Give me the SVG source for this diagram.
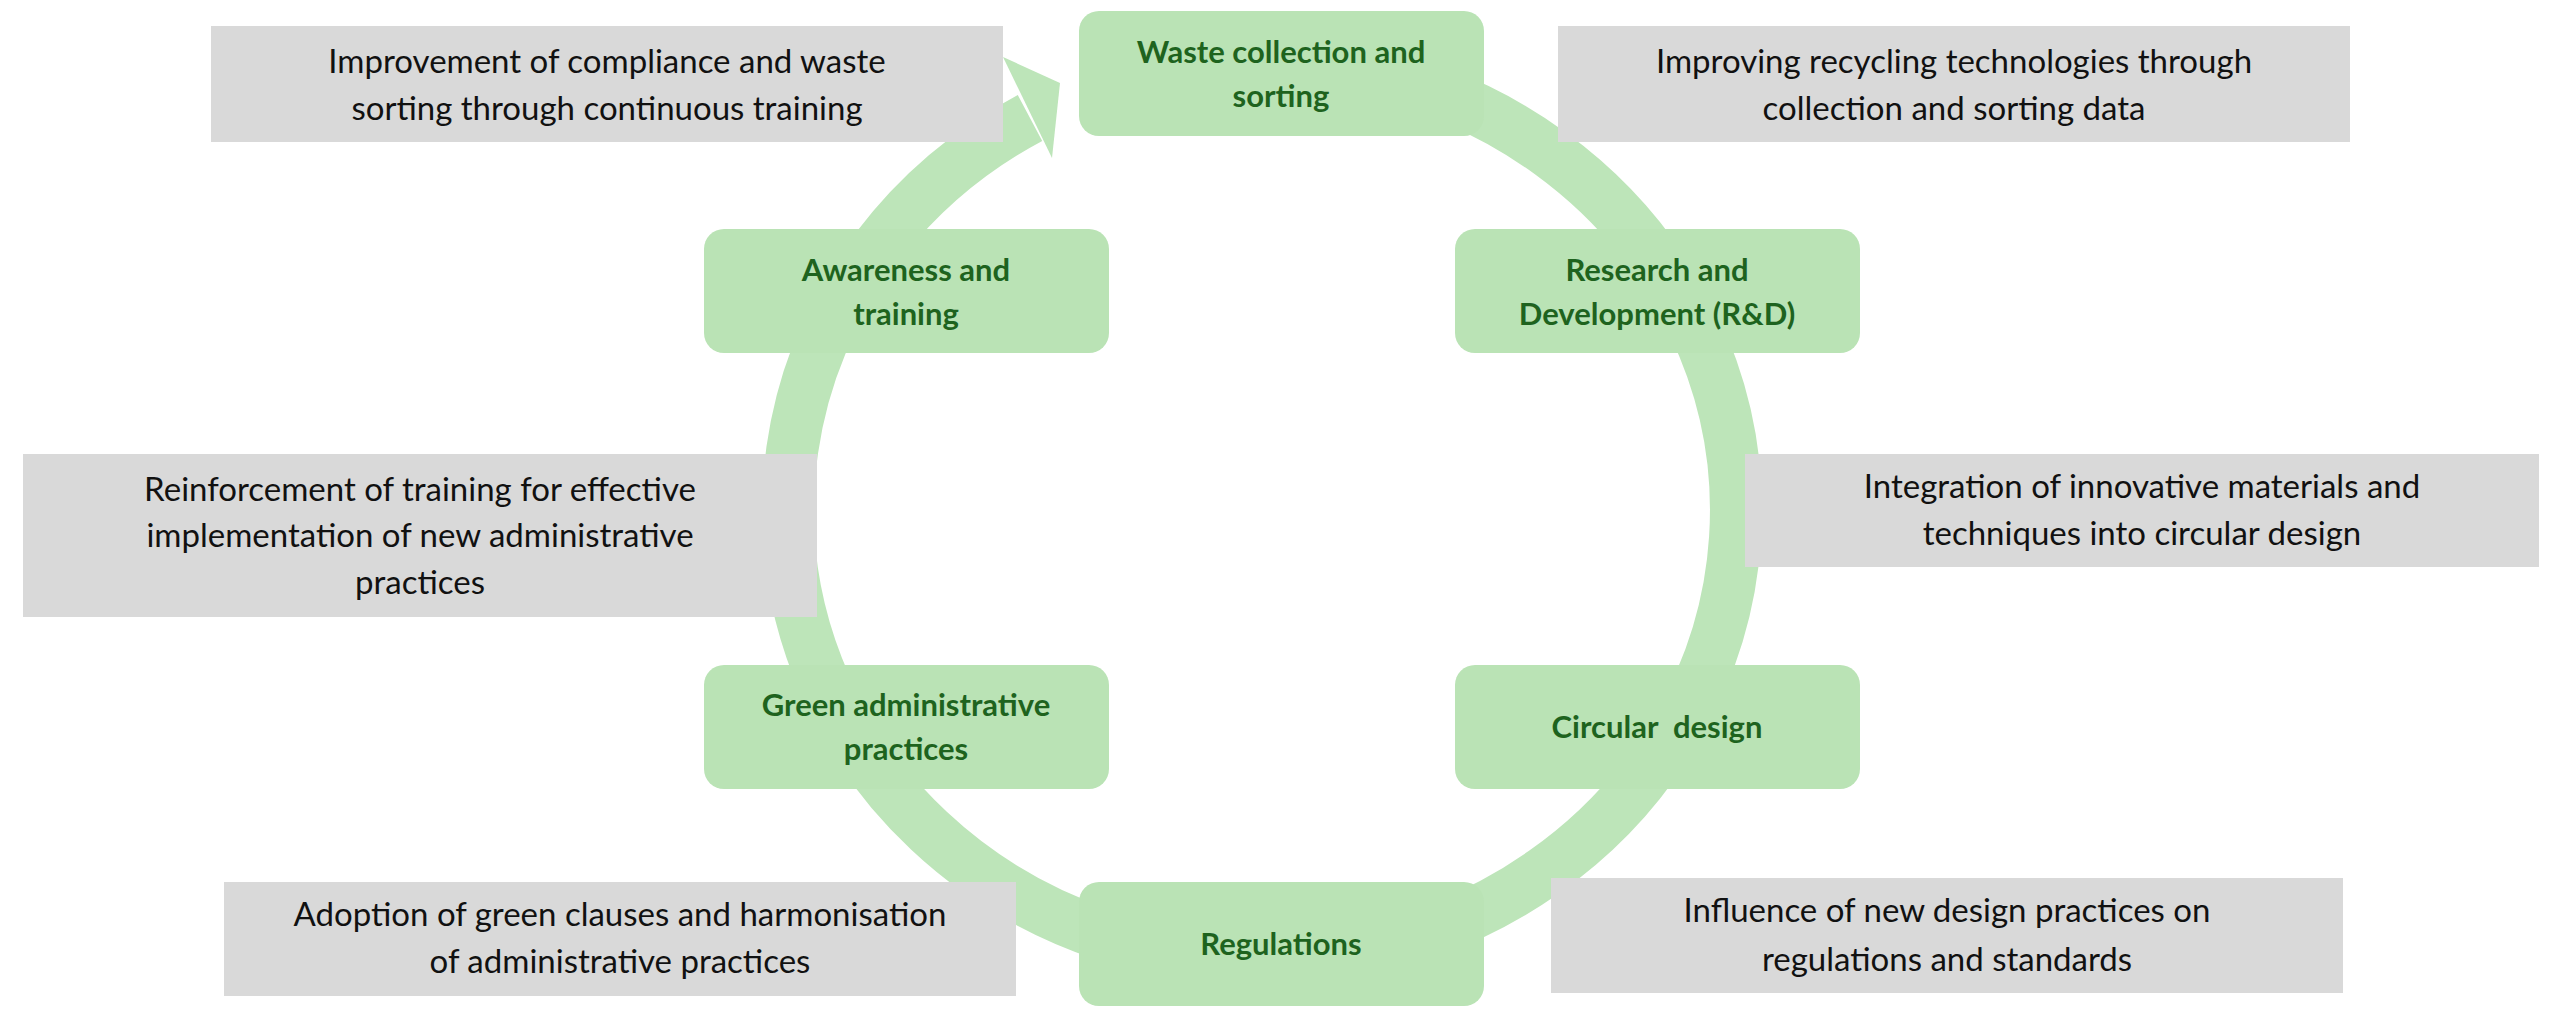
<svg xmlns="http://www.w3.org/2000/svg" width="2560" height="1025" viewBox="0 0 2560 1025">
<style>
.n{fill:#bae3b5}
.nt{font-family:Lato,"Open Sans",sans-serif;font-weight:bold;font-size:31px;fill:#1e631e;text-anchor:middle}
.g{fill:#d9d9d9}
.gt{font-family:Lato,"Open Sans",sans-serif;font-size:33px;fill:#111;text-anchor:middle}
</style>
<rect width="2560" height="1025" fill="#fff"/>
<g id="connectors">
<path d="M1364,71 A474,450 0 1 1 1030,118" fill="none" stroke="#bde5b9" stroke-width="52"/>
<polygon points="1060,83 1003,57 1052,158" fill="#bde5b9"/>
</g>
<g id="n1"><rect class="n" x="1079" y="11" width="405" height="125" rx="20"/><text class="nt" x="1281" y="63">Waste collection and</text><text class="nt" x="1281" y="107">sorting</text></g>
<g id="n2"><rect class="n" x="1455" y="229" width="405" height="124" rx="20"/><text class="nt" x="1657" y="281">Research and</text><text class="nt" x="1657" y="325">Development (R&amp;D)</text></g>
<g id="n3"><rect class="n" x="1455" y="665" width="405" height="124" rx="20"/><text class="nt" x="1657" y="738" xml:space="preserve">Circular  design</text></g>
<g id="n4"><rect class="n" x="1079" y="882" width="405" height="124" rx="20"/><text class="nt" x="1281" y="955">Regulations</text></g>
<g id="n5"><rect class="n" x="704" y="665" width="405" height="124" rx="20"/><text class="nt" x="906" y="716">Green administrative</text><text class="nt" x="906" y="760">practices</text></g>
<g id="n6"><rect class="n" x="704" y="229" width="405" height="124" rx="20"/><text class="nt" x="906" y="281">Awareness and</text><text class="nt" x="906" y="325">training</text></g>
<g id="b1"><rect class="g" x="211" y="26" width="792" height="116"/><text class="gt" x="607" y="73">Improvement of compliance and waste</text><text class="gt" x="607" y="120">sorting through continuous training</text></g>
<g id="b2"><rect class="g" x="1558" y="26" width="792" height="116"/><text class="gt" x="1954" y="73">Improving recycling technologies through</text><text class="gt" x="1954" y="120">collection and sorting data</text></g>
<g id="b3"><rect class="g" x="23" y="454" width="794" height="163"/><text class="gt" x="420" y="501">Reinforcement of training for effective</text><text class="gt" x="420" y="547">implementation of new administrative</text><text class="gt" x="420" y="594">practices</text></g>
<g id="b4"><rect class="g" x="1745" y="454" width="794" height="113"/><text class="gt" x="2142" y="498">Integration of innovative materials and</text><text class="gt" x="2142" y="545">techniques into circular design</text></g>
<g id="b5"><rect class="g" x="224" y="882" width="792" height="114"/><text class="gt" x="620" y="926">Adoption of green clauses and harmonisation</text><text class="gt" x="620" y="973">of administrative practices</text></g>
<g id="b6"><rect class="g" x="1551" y="878" width="792" height="115"/><text class="gt" x="1947" y="922">Influence of new design practices on</text><text class="gt" x="1947" y="971">regulations and standards</text></g>
</svg>
